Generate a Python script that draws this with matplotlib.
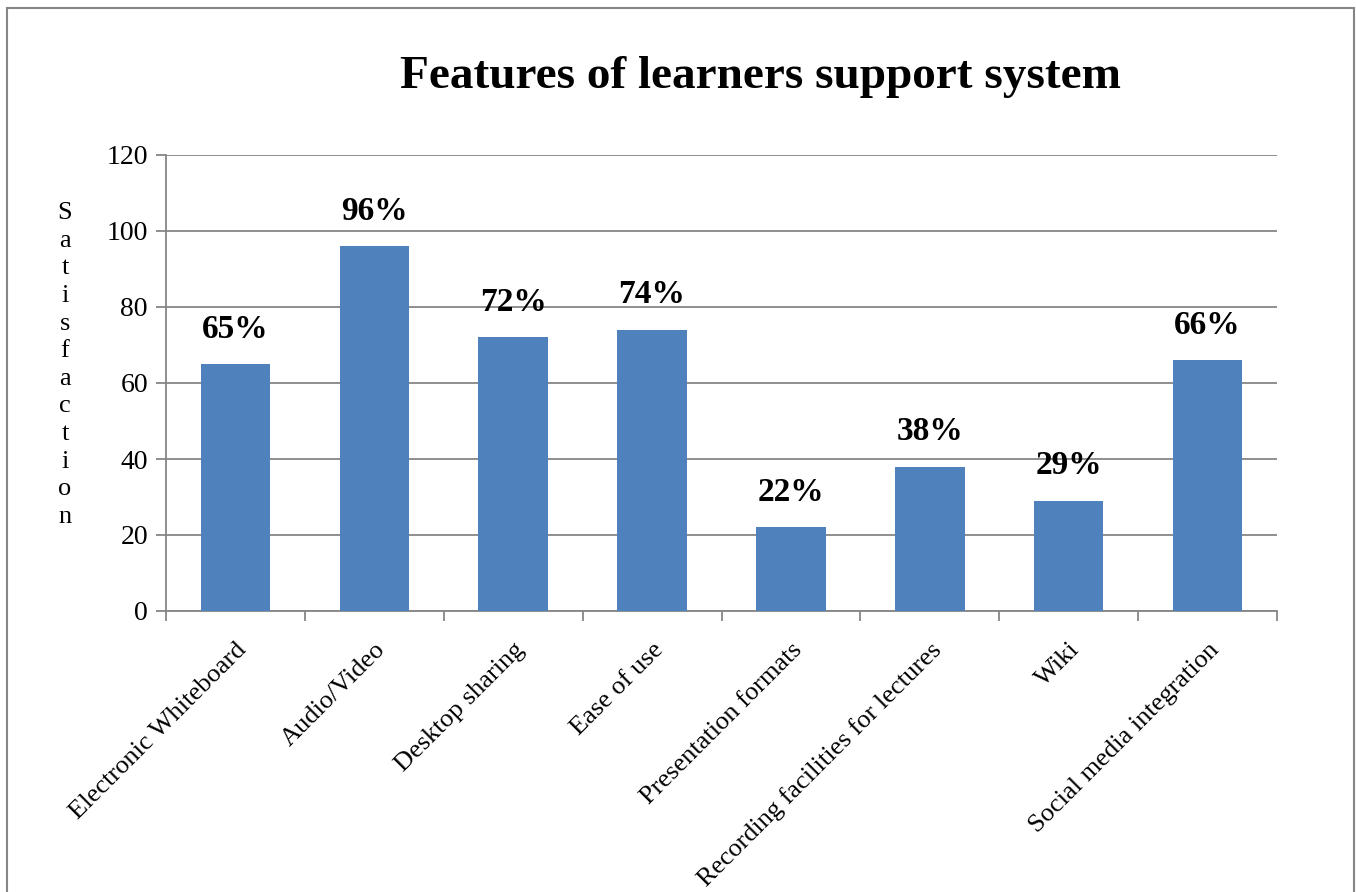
import matplotlib
matplotlib.use('Agg')
import matplotlib.pyplot as plt
from matplotlib.patches import Rectangle
import numpy as np

categories = ['Electronic Whiteboard', 'Audio/Video', 'Desktop sharing', 'Ease of use',
              'Presentation formats', 'Recording facilities for lectures', 'Wiki',
              'Social media integration']
values = [65, 96, 72, 74, 22, 38, 29, 66]
labels = ['65%', '96%', '72%', '74%', '22%', '38%', '29%', '66%']
yticks = [0, 20, 40, 60, 80, 100, 120]

plt.rcParams['font.family'] = ['Liberation Serif', 'DejaVu Serif']
grey = '#868686'
blue = '#4F81BD'

fig = plt.figure(figsize=(13.56, 8.92), dpi=100)
ax = fig.add_axes([166/1356, 1-611/892, (1277-166)/1356, (611-155)/892])

x = np.arange(len(categories))
ax.bar(x, values, width=0.5, color=blue, zorder=3)

for xi, v, lab in zip(x, values, labels):
    ax.annotate(lab, (xi, v), xytext=(0, 14), textcoords='offset points',
                ha='center', va='bottom', fontsize=24, fontweight='bold')

ax.set_xlim(-0.5, len(categories) - 0.5)
ax.set_ylim(0, 120)
ax.set_yticks(yticks)
ax.set_yticklabels([str(t) for t in yticks], fontsize=20)
ax.yaxis.grid(True, color=grey, linewidth=1.3, zorder=0)
ax.tick_params(axis='y', length=7, width=1.3, color=grey, pad=6)

ax.set_xticks(x)
ax.set_xticklabels(categories, rotation=45, ha='right', rotation_mode='anchor', fontsize=19)
ax.set_xticks(np.arange(-0.5, len(categories)), minor=True)
ax.tick_params(axis='x', which='major', length=0, pad=20)
ax.tick_params(axis='x', which='minor', length=7, width=1.3, color=grey)

for s in ['top', 'right']:
    ax.spines[s].set_visible(False)
for s in ['left', 'bottom']:
    ax.spines[s].set_color(grey)
    ax.spines[s].set_linewidth(1.3)

fig.text(65/1356, 1-365/892, '\n'.join('Satisfaction'), ha='center', va='center',
         fontsize=19, linespacing=1.33)

fig.text(760/1356, 1-77/892, 'Features of learners support system', ha='center', va='center',
         fontsize=34, fontweight='bold')

fig.patches.append(Rectangle((7/1356, -0.1), (1354-7)/1356, 1.1-8/892, transform=fig.transFigure,
                             fill=False, edgecolor=grey, linewidth=1.5))

fig.savefig('out.png', dpi=100)
